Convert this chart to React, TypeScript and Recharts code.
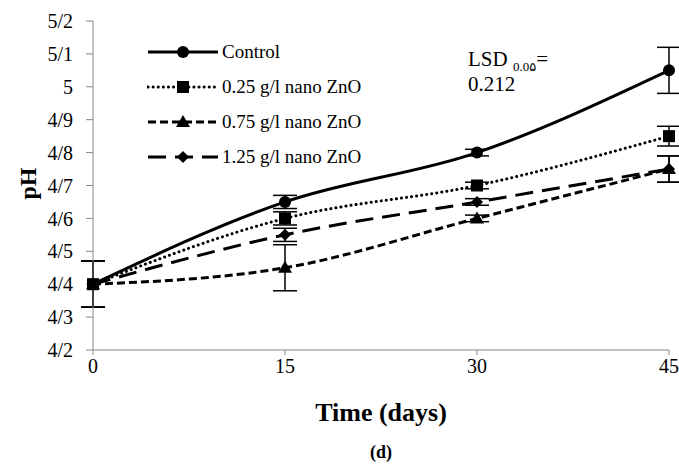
import React from 'react';
import { LineChart, Line, XAxis, YAxis, ErrorBar } from 'recharts';

// days after treatment
const days = [0, 15, 30, 45];

// pH values per treatment
const control = [4.4, 4.65, 4.8, 5.05];
const zno025 = [4.4, 4.6, 4.7, 4.85];
const zno075 = [4.4, 4.45, 4.6, 4.75];
const zno125 = [4.4, 4.55, 4.65, 4.75];

// standard errors
const controlErr = [0.07, 0.02, 0.01, 0.07];
const zno025Err = [0.07, 0.02, 0.01, 0.03];
const zno075Err = [0.07, 0.07, 0.01, 0.04];
const zno125Err = [0.07, 0.02, 0.01, 0.04];

const yTicks = [4.2, 4.3, 4.4, 4.5, 4.6, 4.7, 4.8, 4.9, 5, 5.1, 5.2];

const data = days.map((d, i) => ({
  day: d,
  control: control[i],
  controlErr: controlErr[i],
  z025: zno025[i],
  z025Err: zno025Err[i],
  z075: zno075[i],
  z075Err: zno075Err[i],
  z125: zno125[i],
  z125Err: zno125Err[i],
}));

const font = "'Liberation Serif', 'Times New Roman', serif";

type Shape = 'circle' | 'square' | 'triangle' | 'diamond';

const Marker = ({ cx, cy, shape }: { cx: number; cy: number; shape: Shape }) => {
  if (shape === 'circle') return <circle cx={cx} cy={cy} r={6} fill="#000" />;
  if (shape === 'square') return <rect x={cx - 6} y={cy - 6} width={12} height={12} fill="#000" />;
  if (shape === 'triangle')
    return <polygon points={`${cx},${cy - 7} ${cx + 7},${cy + 5} ${cx - 7},${cy + 5}`} fill="#000" />;
  return <polygon points={`${cx},${cy - 6} ${cx + 6},${cy} ${cx},${cy + 6} ${cx - 6},${cy}`} fill="#000" />;
};

const dotFor = (shape: Shape) => (p: any) =>
  <Marker key={`${shape}-${p.index}`} cx={p.cx} cy={p.cy} shape={shape} />;

const series = [
  { key: 'control', name: 'Control', dash: undefined, cap: 'butt', shape: 'circle' as Shape },
  { key: 'z025', name: '0.25 g/l nano ZnO', dash: '0.1 5', cap: 'round', shape: 'square' as Shape },
  { key: 'z075', name: '0.75 g/l nano ZnO', dash: '8 4', cap: 'butt', shape: 'triangle' as Shape },
  { key: 'z125', name: '1.25 g/l nano ZnO', dash: '18 9', cap: 'butt', shape: 'diamond' as Shape },
];

const App = () => (
  <div style={{ position: 'absolute', left: 0, top: 0, width: 679, height: 465, background: '#fff' }}>
    <LineChart width={679} height={465} data={data} margin={{ top: 21, right: 10, left: 0, bottom: 85 }}>
      <XAxis
        dataKey="day"
        type="number"
        domain={[0, 45]}
        ticks={days}
        stroke="#868686"
        tickSize={5}
        tickMargin={4}
        height={30}
        tick={{ fill: '#000', fontSize: 20, fontFamily: font }}
      />
      <YAxis
        type="number"
        domain={[4.2, 5.2]}
        ticks={yTicks}
        width={93}
        stroke="#868686"
        tickSize={7}
        tickMargin={13}
        interval={0}
        tickFormatter={(v: number) => String(Math.round(v * 10) / 10).replace('.', '/')}
        tick={{ fill: '#000', fontSize: 20, fontFamily: font }}
      />
      {series.map((s) => (
        <Line
          key={s.key}
          dataKey={s.key}
          name={s.name}
          type="monotone"
          stroke="#000"
          strokeWidth={3}
          strokeDasharray={s.dash}
          strokeLinecap={s.cap as any}
          dot={dotFor(s.shape)}
          isAnimationActive={false}
        >
          <ErrorBar dataKey={`${s.key}Err`} direction="y" width={12} stroke="#000" strokeWidth={1.5} />
        </Line>
      ))}
    </LineChart>

    {/* legend */}
    <div style={{ position: 'absolute', left: 147, top: 34, width: 300, fontFamily: font, fontSize: 19 }}>
      {series.map((s) => (
        <div key={s.key} style={{ display: 'flex', alignItems: 'center', height: 35 }}>
          <svg width={73} height={20} style={{ flexShrink: 0 }}>
            <line
              x1={1}
              y1={10}
              x2={71}
              y2={10}
              stroke="#000"
              strokeWidth={3}
              strokeDasharray={s.dash}
              strokeLinecap={s.cap as any}
            />
            <Marker cx={36} cy={10} shape={s.shape} />
          </svg>
          <span style={{ marginLeft: 2, whiteSpace: 'nowrap' }}>{s.name}</span>
        </div>
      ))}
    </div>

    {/* LSD note */}
    <div style={{ position: 'absolute', left: 468, top: 47, fontFamily: font, fontSize: 21, lineHeight: '25px' }}>
      <div style={{ whiteSpace: 'nowrap' }}>
        LSD <sub style={{ fontSize: 13, lineHeight: 0, fontFamily: "'Liberation Serif', 'DejaVu Sans', serif" }}>0.0۵</sub>=
      </div>
      <div>0.212</div>
    </div>

    {/* axis titles */}
    <div
      style={{
        position: 'absolute',
        left: 12,
        top: 170,
        fontFamily: font,
        fontWeight: 'bold',
        fontSize: 24,
        transform: 'rotate(-90deg)',
      }}
    >
      pH
    </div>
    <div
      style={{
        position: 'absolute',
        left: 0,
        width: 762,
        top: 398,
        textAlign: 'center',
        fontFamily: font,
        fontWeight: 'bold',
        fontSize: 26,
      }}
    >
      Time (days)
    </div>
    <div
      style={{
        position: 'absolute',
        left: 0,
        width: 762,
        top: 442,
        textAlign: 'center',
        fontFamily: font,
        fontWeight: 'bold',
        fontSize: 18,
      }}
    >
      (d)
    </div>
  </div>
);

export default App;
